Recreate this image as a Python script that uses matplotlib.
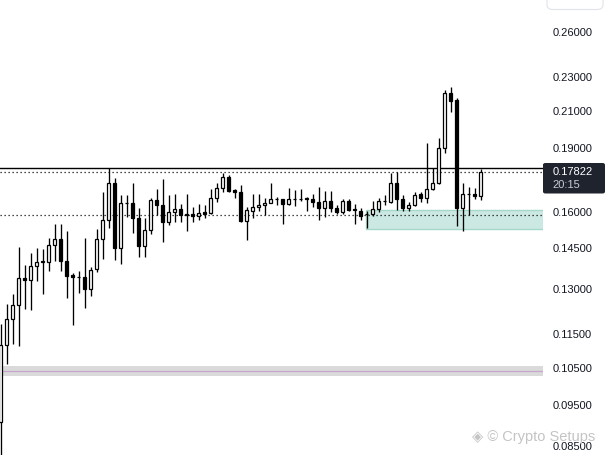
import numpy as np
import matplotlib
matplotlib.use("Agg")
import matplotlib.pyplot as plt
from matplotlib.patches import Rectangle, FancyBboxPatch

plt.rcParams['font.family'] = ['Liberation Sans', 'DejaVu Sans']

# OHLC (log price scale)
opens = [0.0906, 0.1116, 0.1196, 0.1245, 0.1336, 0.1330, 0.1381, 0.1397, 0.1397, 0.1463,
         0.1487, 0.1402, 0.1348, 0.1341, 0.1340, 0.1300, 0.1370, 0.1487, 0.1563, 0.1731,
         0.1449, 0.1637, 0.1637, 0.1572, 0.1459, 0.1523, 0.1651, 0.1629, 0.1557, 0.1600,
         0.1610, 0.1586, 0.1588, 0.1580, 0.1598, 0.1594, 0.1660, 0.1706, 0.1755, 0.1696,
         0.1686, 0.1561, 0.1605, 0.1620, 0.1631, 0.1640, 0.1655, 0.1654, 0.1633, 0.1655,
         0.1657, 0.1659, 0.1658, 0.1642, 0.1614, 0.1649, 0.1618, 0.1600, 0.1647, 0.1609,
         0.1605, 0.1590, 0.1588, 0.1610, 0.1647, 0.1643, 0.1731, 0.1657, 0.1617, 0.1631,
         0.1677, 0.1662, 0.1703, 0.1728, 0.1898, 0.2203, 0.2163, 0.1616, 0.1677, 0.1677,
         0.1670]
highs = [0.1182, 0.1248, 0.1281, 0.1455, 0.1385, 0.1431, 0.1451, 0.1447, 0.1490, 0.1547,
         0.1547, 0.1519, 0.1355, 0.1363, 0.1490, 0.1378, 0.1527, 0.1687, 0.1800, 0.1751,
         0.1673, 0.1673, 0.1728, 0.1614, 0.1572, 0.1660, 0.1700, 0.1747, 0.1673, 0.1680,
         0.1632, 0.1680, 0.1620, 0.1632, 0.1629, 0.1703, 0.1731, 0.1777, 0.1765, 0.1703,
         0.1719, 0.1620, 0.1680, 0.1680, 0.1659, 0.1731, 0.1665, 0.1656, 0.1708, 0.1696,
         0.1700, 0.1665, 0.1680, 0.1711, 0.1692, 0.1692, 0.1629, 0.1656, 0.1656, 0.1632,
         0.1614, 0.1603, 0.1648, 0.1659, 0.1673, 0.1777, 0.1783, 0.1673, 0.1643, 0.1686,
         0.1687, 0.1926, 0.1800, 0.1950, 0.2223, 0.2243, 0.2176, 0.1731, 0.1712, 0.1708,
         0.1798]
lows = [0.0799, 0.1060, 0.1119, 0.1114, 0.1229, 0.1226, 0.1327, 0.1282, 0.1363, 0.1401,
        0.1363, 0.1267, 0.1179, 0.1285, 0.1232, 0.1275, 0.1361, 0.1408, 0.1530, 0.1404,
        0.1388, 0.1577, 0.1511, 0.1416, 0.1416, 0.1507, 0.1585, 0.1475, 0.1543, 0.1557,
        0.1557, 0.1517, 0.1557, 0.1564, 0.1572, 0.1590, 0.1643, 0.1687, 0.1687, 0.1660,
        0.1556, 0.1482, 0.1572, 0.1603, 0.1586, 0.1637, 0.1629, 0.1548, 0.1629, 0.1626,
        0.1647, 0.1603, 0.1620, 0.1564, 0.1576, 0.1598, 0.1591, 0.1591, 0.1605, 0.1546,
        0.1563, 0.1530, 0.1581, 0.1599, 0.1629, 0.1637, 0.1607, 0.1604, 0.1604, 0.1625,
        0.1643, 0.1640, 0.1696, 0.1724, 0.1877, 0.2093, 0.1539, 0.1519, 0.1586, 0.1655,
        0.1653]
closes = [0.1116, 0.1196, 0.1245, 0.1336, 0.1330, 0.1381, 0.1397, 0.1398, 0.1463, 0.1487,
          0.1402, 0.1346, 0.1341, 0.1340, 0.1300, 0.1366, 0.1487, 0.1563, 0.1731, 0.1449,
          0.1637, 0.1636, 0.1572, 0.1459, 0.1523, 0.1651, 0.1629, 0.1557, 0.1600, 0.1610,
          0.1586, 0.1588, 0.1580, 0.1594, 0.1590, 0.1660, 0.1706, 0.1755, 0.1692, 0.1686,
          0.1561, 0.1607, 0.1620, 0.1631, 0.1640, 0.1655, 0.1656, 0.1633, 0.1655, 0.1657,
          0.1656, 0.1654, 0.1642, 0.1614, 0.1649, 0.1618, 0.1600, 0.1647, 0.1609, 0.1611,
          0.1580, 0.1588, 0.1610, 0.1647, 0.1648, 0.1731, 0.1657, 0.1617, 0.1631, 0.1676,
          0.1662, 0.1703, 0.1731, 0.1898, 0.2203, 0.2158, 0.1616, 0.1677, 0.1678, 0.1669,
          0.17822]

tick_vals = [0.26, 0.23, 0.21, 0.19, 0.16, 0.145, 0.13, 0.115, 0.105, 0.095, 0.085]
tick_labels = ["0.26000", "0.23000", "0.21000", "0.19000", "0.16000", "0.14500",
               "0.13000", "0.11500", "0.10500", "0.09500", "0.08500"]

resistance = 0.1800
last_price = 0.17822
last_time = "20:15"
dotted_level = 0.1584
demand_zone = (0.1527, 0.1607)
grey_zone = (0.1027, 0.1054)
grey_mid = 0.1039

W, H = 607, 455
fig = plt.figure(figsize=(W / 100, H / 100), dpi=100)
ax = fig.add_axes([0, 0, 543 / W, 1])
ax.set_facecolor('white')

o = np.array(opens)
c = np.array(closes)
hi = np.array(highs)
lo = np.array(lows)
x = np.arange(len(o))
up = c >= o

# zones and levels behind candles
ax.axhspan(grey_zone[0], grey_zone[1], color='#dadada', lw=0, zorder=1)
ax.axhline(grey_mid, color='#c7a6cc', lw=0.9, zorder=1.1)
ax.add_patch(Rectangle((60.9, demand_zone[0]), 40, demand_zone[1] - demand_zone[0],
                       facecolor='#cbe9e2', edgecolor='#a6d7cb', lw=1, zorder=1))
ax.axhline(resistance, color='black', lw=1.0, zorder=1.5)
ax.axhline(last_price, color='#111111', lw=0.9, ls=(0, (1, 2.2)), zorder=1.5)
ax.axhline(dotted_level, color='#111111', lw=0.9, ls=(0, (1, 2.2)), zorder=1.5)

# candles
ax.vlines(x, lo, hi, color='black', lw=0.95, zorder=2)
bottoms = np.minimum(o, c)
heights = np.maximum(np.abs(c - o), 0.0002)
ax.bar(x[up], heights[up], bottom=bottoms[up], width=0.5, facecolor='white',
       edgecolor='black', lw=0.9, zorder=3)
ax.bar(x[~up], heights[~up], bottom=bottoms[~up], width=0.5, facecolor='black',
       edgecolor='black', lw=0.9, zorder=3)

ax.set_yscale('log')
ax.set_ylim(0.0829, 0.2835)
ax.set_xlim(-0.1, 90.4)
ax.yaxis.tick_right()
ax.set_yticks(tick_vals)
ax.set_yticklabels(tick_labels)
ax.yaxis.set_minor_locator(matplotlib.ticker.NullLocator())
ax.tick_params(axis='y', length=0, pad=7, labelsize=8, labelcolor='#131722')
ax.set_xticks([])
for s in ax.spines.values():
    s.set_visible(False)

# last price label on the scale
fig.patches.append(FancyBboxPatch((543 / W, 1 - 193.5 / H), 62 / W, 30.5 / H,
                                  boxstyle='round,pad=0,rounding_size=0.004',
                                  transform=fig.transFigure, facecolor='#1f232d',
                                  edgecolor='none', zorder=5))
fig.text(552.5 / W, 1 - 172 / H, "0.17822", color='white', fontsize=8,
         va='center', ha='left', zorder=6)
fig.text(552.5 / W, 1 - 185.5 / H, last_time, color='#c9ccd4', fontsize=8,
         va='center', ha='left', zorder=6)

# cut-off box at the top right
fig.patches.append(FancyBboxPatch((547 / W, 1 - 9.5 / H), 56 / W, 20 / H,
                                  boxstyle='round,pad=0,rounding_size=0.01',
                                  transform=fig.transFigure, facecolor='white',
                                  edgecolor='#e0e3eb', lw=0.8, zorder=5))
fig.text(556 / W, 1 + 2.5 / H, "0.2834", color='#131722', fontsize=8,
         va='center', ha='left', zorder=6)

# watermark
fig.text(472 / W, 1 - 437 / H, "\u25c8 \u00a9 Crypto Setups", color='#c4c4c4',
         fontsize=10.5, va='center', ha='left', zorder=0.5)

fig.savefig("out.png", dpi=100)
